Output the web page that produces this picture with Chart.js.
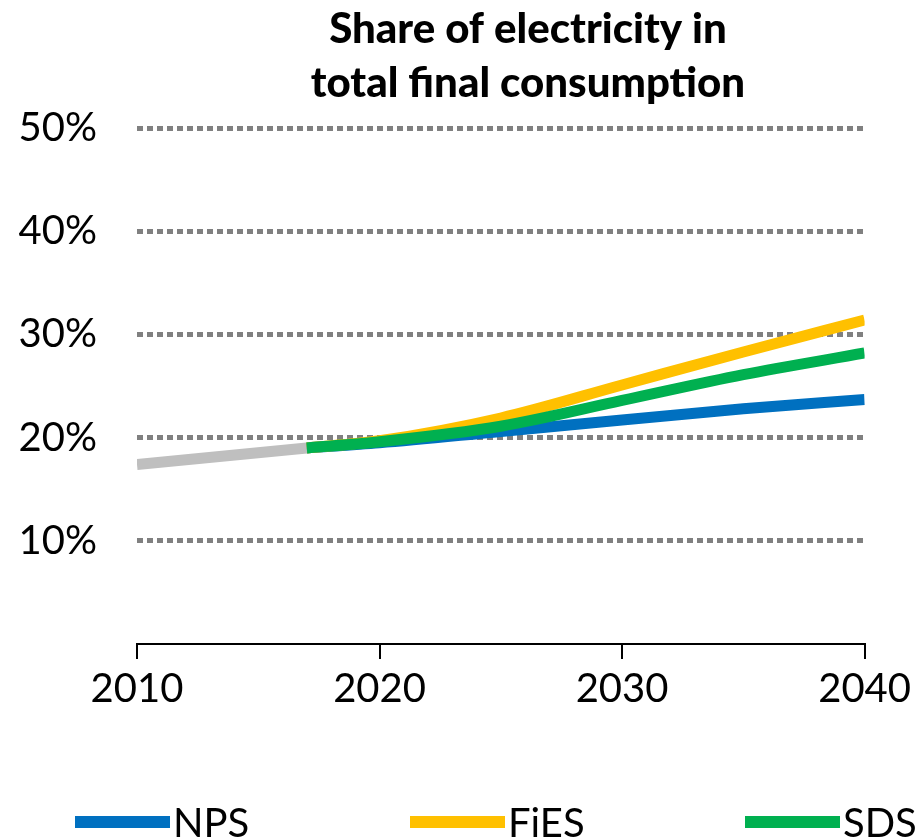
<!DOCTYPE html>
<html>
<head>
<meta charset="utf-8">
<style>
  html, body { margin: 0; padding: 0; background: #fff; }
  #wrap { width: 917px; height: 838px; }
</style>
<script src="https://cdn.jsdelivr.net/npm/chart.js@4/dist/chart.umd.min.js"></script>
</head>
<body>
<div id="wrap"><canvas id="chart" width="917" height="838"></canvas></div>
<script>
// --- data ---
const titleLines = ['Share of electricity in', 'total final consumption'];
const histYears = [2010, 2017];
const histValues = [17.4, 19.0];
const years = [2017, 2020, 2025, 2030, 2035, 2040];
const npsValues = [19.0, 19.5, 20.6, 21.7, 22.8, 23.7];
const fiesValues = [19.0, 19.7, 21.9, 25.1, 28.3, 31.4];
const sdsValues = [19.0, 19.6, 21.1, 23.6, 26.1, 28.2];
const xTicks = [2010, 2020, 2030, 2040];
const yTicks = [0, 10, 20, 30, 40, 50];

const FONT = 'Lato, "Open Sans", sans-serif';
const colors = { nps: '#0070c0', fies: '#ffc000', sds: '#00b050', hist: '#bfbfbf' };

const toPts = (xs, ys) => xs.map((x, i) => ({ x: x, y: ys[i] }));

const line = (label, pts, color, order) => ({
    label: label,
    data: pts,
    borderColor: color,
    backgroundColor: color,
    borderWidth: 11,
    pointRadius: 0,
    cubicInterpolationMode: 'monotone',
    borderCapStyle: 'butt',
    fill: false,
    order: order
});

// title + legend drawn on the canvas
const decorations = {
    id: 'decorations',
    afterDraw(chart) {
        const ctx = chart.ctx;
        ctx.save();
        ctx.fillStyle = '#000';
        ctx.textAlign = 'center';
        ctx.textBaseline = 'middle';
        ctx.font = '900 42px ' + FONT;
        titleLines.forEach((t, i) => ctx.fillText(t, 528, 29 + i * 54));

        const items = [['NPS', colors.nps], ['FiES', colors.fies], ['SDS', colors.sds]];
        ctx.textAlign = 'left';
        ctx.font = '40px ' + FONT;
        items.forEach((it, i) => {
            const x0 = 75 + i * 335;
            ctx.fillStyle = it[1];
            ctx.fillRect(x0, 816, 95, 12);
            ctx.fillStyle = '#000';
            ctx.fillText(it[0], x0 + 98, 824);
        });
        ctx.restore();
    }
};

new Chart(document.getElementById('chart'), {
    type: 'line',
    data: {
        datasets: [
            line('NPS', toPts(years, npsValues), colors.nps, 2),
            line('FiES', toPts(years, fiesValues), colors.fies, 1),
            line('SDS', toPts(years, sdsValues), colors.sds, 0),
            line('History', toPts(histYears, histValues), colors.hist, 3)
        ]
    },
    options: {
        responsive: false,
        animation: false,
        layout: { padding: { top: 128, right: 50, left: 0, bottom: 0 } },
        plugins: {
            legend: { display: false },
            title: { display: false },
            tooltip: { enabled: false }
        },
        scales: {
            x: {
                type: 'linear',
                min: 2010,
                max: 2040,
                afterBuildTicks: s => { s.ticks = xTicks.map(v => ({ value: v })); },
                afterFit: s => { s.height = 194; },
                border: { display: true, color: '#000', width: 2 },
                grid: { drawOnChartArea: false, drawTicks: true, tickLength: 15, color: '#000', lineWidth: 2 },
                ticks: {
                    padding: 6,
                    color: '#000',
                    font: { family: FONT, size: 40 },
                    callback: v => String(v)
                }
            },
            y: {
                min: 0,
                max: 50,
                afterBuildTicks: s => { s.ticks = yTicks.map(v => ({ value: v })); },
                afterFit: s => { s.width = 137; },
                border: { display: false, dash: [6, 4] },
                grid: {
                    drawTicks: false,
                    lineWidth: 5,
                    color: ctx => ctx.tick && ctx.tick.value === 0 ? 'rgba(0,0,0,0)' : '#808080'
                },
                ticks: {
                    padding: 40,
                    color: '#000',
                    font: { family: FONT, size: 40 },
                    callback: v => v === 0 ? '' : v + '%'
                }
            }
        }
    },
    plugins: [decorations]
});
</script>
</body>
</html>
